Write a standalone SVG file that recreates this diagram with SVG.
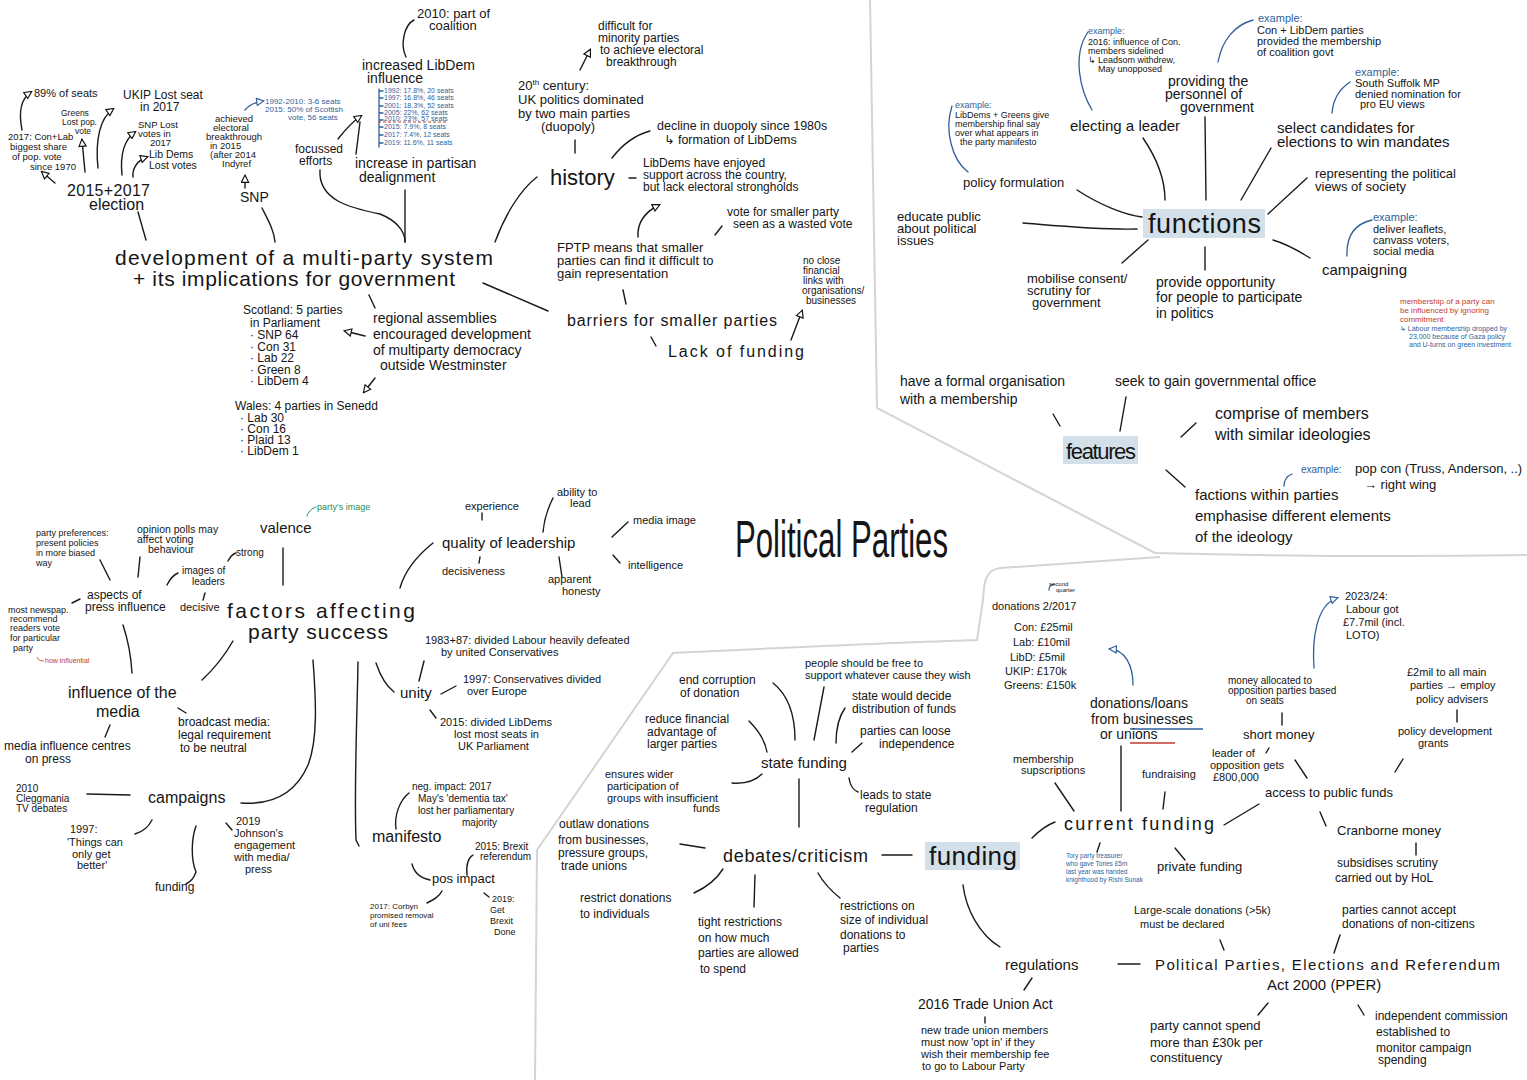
<svg xmlns="http://www.w3.org/2000/svg" width="1527" height="1080" viewBox="0 0 1527 1080">
<defs>
<style>
text{font-family:"Liberation Sans","DejaVu Sans",Arial,sans-serif;fill:#151515}
.bl{fill:#2f5f9a}
.rd{fill:#c23b2e}
.gr{fill:#2e8b57}
.c{fill:none;stroke:#1a1a1a;stroke-width:1.4;stroke-linecap:round}
.cb{fill:none;stroke:#2f5f9a;stroke-width:1.3;stroke-linecap:round}
.cg{fill:none;stroke:#2e8b57;stroke-width:1;stroke-linecap:round}
.div{fill:none;stroke:#d4d4d4;stroke-width:2}
.hl{fill:#d3e0ea}
</style>
<marker id="oa" viewBox="0 0 10 10" refX="8" refY="5" markerWidth="9" markerHeight="9" markerUnits="userSpaceOnUse" orient="auto"><path d="M1,1 L9,5 L1,9 z" fill="#fff" stroke="#111" stroke-width="1.3"/></marker>
<marker id="ob" viewBox="0 0 10 10" refX="8" refY="5" markerWidth="9" markerHeight="9" markerUnits="userSpaceOnUse" orient="auto"><path d="M1,1 L9,5 L1,9 z" fill="#fff" stroke="#2f5f9a" stroke-width="1.3"/></marker>
</defs>
<rect width="1527" height="1080" fill="#fff"/>

<g id="dividers">
<path class="div" d="M870,0 C872,150 876,300 877,408 L1155,553 C1280,556 1400,557 1527,555"/>
<path class="div" d="M535,1080 L537,850 L673,653 C780,648 880,643 977,640 L983,600 C984,580 986,570 1000,568 C1080,563 1130,559 1160,557"/>
</g>

<g id="connectors">
<path class="c" d="M55,183 L42,172" marker-end="url(#oa)"/>
<path class="c" d="M85,172 L82,140" marker-end="url(#oa)"/>
<path class="c" d="M98,168 C95,140 100,118 113,109" marker-end="url(#oa)"/>
<path class="c" d="M122,175 C120,155 124,140 135,132" marker-end="url(#oa)"/>
<path class="c" d="M133,177 C132,168 138,160 147,157" marker-end="url(#oa)"/>
<path class="c" d="M22,130 C18,110 22,98 31,92" marker-end="url(#oa)"/>
<path class="c" d="M138,212 L146,240"/>
<path class="c" d="M262,208 C268,220 274,230 275,242"/>
<path class="c" d="M245,188 L245,176" marker-end="url(#oa)"/>
<path class="cb" d="M245,110 C250,104 256,102 263,101" marker-end="url(#ob)"/>
<path class="c" d="M338,139 C345,130 352,122 361,116" marker-end="url(#oa)"/>
<path class="c" d="M356,154 L360,122"/>
<path class="c" d="M320,170 C318,200 350,208 380,214 C395,220 405,230 405,242"/>
<path class="c" d="M405,190 L405,242"/>
<path class="c" d="M406,57 C400,45 404,25 414,20"/>
<path class="cb" d="M379,89 L379,147 M379,91 L383,91 M379,98 L383,98 M379,106 L383,106 M379,113 L383,113 M379,120 L383,120 M379,127 L383,127 M379,135 L383,135 M379,143 L383,143"/>
<path d="M378,122 L448,122" stroke="#c23b2e" stroke-width="1" stroke-dasharray="3,2" fill="none"/>
<path class="c" d="M495,242 C505,215 520,190 537,177"/>
<path class="c" d="M483,283 L548,311"/>
<path class="c" d="M369,295 L375,308"/>
<path class="c" d="M365,336 L345,331" marker-end="url(#oa)"/>
<path class="c" d="M375,378 L364,392" marker-end="url(#oa)"/>
<path class="c" d="M575,140 L575,153"/>
<path class="c" d="M580,70 L590,50" marker-end="url(#oa)"/>
<path class="c" d="M612,158 C622,145 635,135 650,131"/>
<path class="c" d="M629,178 L636,178"/>
<path class="c" d="M638,237 C637,222 645,212 659,205" marker-end="url(#oa)"/>
<path class="c" d="M715,235 L722,226"/>
<path class="c" d="M623,290 L626,304"/>
<path class="c" d="M651,337 L656,346"/>
<path class="c" d="M791,340 L802,311" marker-end="url(#oa)"/>
<path class="cb" d="M968,172 C952,160 944,130 952,106"/>
<path class="cb" d="M1092,110 C1080,90 1072,55 1088,32"/>
<path class="c" d="M1077,190 C1100,205 1125,215 1142,217"/>
<path class="c" d="M1023,223 C1060,226 1100,230 1137,229"/>
<path class="c" d="M1122,263 L1148,240"/>
<path class="c" d="M1143,138 C1158,160 1165,180 1165,200"/>
<path class="c" d="M1205,117 L1206,200"/>
<path class="cb" d="M1218,62 C1222,40 1235,25 1253,20"/>
<path class="c" d="M1271,148 L1241,200"/>
<path class="cb" d="M1332,113 C1333,100 1338,90 1350,82"/>
<path class="c" d="M1268,214 L1307,178"/>
<path class="c" d="M1273,240 C1290,245 1300,252 1310,258"/>
<path class="cb" d="M1347,256 C1346,235 1355,224 1372,220"/>
<path class="c" d="M1205,247 L1205,270"/>
<path class="c" d="M1053,414 L1060,426"/>
<path class="c" d="M1126,397 L1120,431"/>
<path class="c" d="M1181,437 L1196,423"/>
<path class="c" d="M1166,470 L1185,487"/>
<path class="cb" d="M1284,486 C1284,480 1287,476 1292,474"/>
<path class="cg" d="M307,516 C308,512 311,509 316,507"/>
<path class="c" d="M100,560 L110,580"/>
<path class="c" d="M140,557 L138,577"/>
<path class="c" d="M167,585 C170,579 173,575 178,573"/>
<path class="c" d="M228,561 C230,557 232,554 236,553"/>
<path class="c" d="M205,593 L203,600"/>
<path class="c" d="M72,603 L80,599"/>
<path d="M37,657 C38,660 40,661 44,661" fill="none" stroke="#c23b2e" stroke-width="0.8"/>
<path class="c" d="M123,625 C128,640 131,655 132,673"/>
<path class="c" d="M233,641 C225,655 215,668 202,680"/>
<path class="c" d="M283,548 L283,585"/>
<path class="c" d="M433,543 C418,555 405,570 400,588"/>
<path class="c" d="M482,513 L482,520"/>
<path class="c" d="M553,498 C548,508 544,520 543,532"/>
<path class="c" d="M628,522 L612,537"/>
<path class="c" d="M613,555 L620,563"/>
<path class="c" d="M480,557 L479,563"/>
<path class="c" d="M559,557 L562,577"/>
<path class="c" d="M178,708 L186,713"/>
<path class="c" d="M110,725 L105,737"/>
<path class="c" d="M87,794 L130,795"/>
<path class="c" d="M313,660 C316,700 318,740 308,765 C295,795 270,805 241,803"/>
<path class="c" d="M152,820 C148,828 142,832 135,834"/>
<path class="c" d="M196,826 C191,840 191,860 196,872 C194,878 190,882 186,884"/>
<path class="c" d="M226,823 L232,830"/>
<path class="c" d="M358,662 C357,720 354,790 356,840 L359,846"/>
<path class="c" d="M376,663 C380,675 385,685 394,692"/>
<path class="c" d="M419,681 L424,661"/>
<path class="c" d="M441,694 L456,686"/>
<path class="c" d="M430,710 L436,718"/>
<path class="c" d="M396,829 C394,815 400,800 409,793"/>
<path class="c" d="M412,864 C414,872 420,878 430,880"/>
<path class="c" d="M467,875 C466,865 468,858 473,855"/>
<path class="c" d="M427,903 C433,900 439,897 442,891"/>
<path class="c" d="M484,893 L489,897"/>
<path class="c" d="M773,683 C788,695 795,715 795,740"/>
<path class="c" d="M824,687 L814,740"/>
<path class="c" d="M845,708 C838,718 836,730 836,743"/>
<path class="c" d="M862,743 L852,752"/>
<path class="c" d="M749,721 C758,730 765,740 767,752"/>
<path class="c" d="M732,783 C745,784 755,781 762,774"/>
<path class="c" d="M849,778 C850,785 853,790 858,792"/>
<path class="c" d="M799,779 L799,827"/>
<path class="c" d="M680,844 L705,848"/>
<path class="c" d="M882,855 L912,855"/>
<path class="c" d="M694,893 C705,888 716,880 723,869"/>
<path class="c" d="M755,875 L754,907"/>
<path class="c" d="M818,873 C823,882 830,890 840,898"/>
<path class="c" d="M963,885 C966,910 980,935 1000,947"/>
<path class="c" d="M1032,838 C1040,830 1047,825 1055,822"/>
<path class="cb" d="M1133,685 C1133,665 1125,650 1110,649" marker-end="url(#ob)"/>
<path class="cb" d="M1049,590 C1049,587 1051,585 1054,584"/>
<path d="M1130,729 L1203,729" stroke="#2f5f9a" stroke-width="1.3"/>
<path d="M1130,743 L1175,743" stroke="#c23b2e" stroke-width="1.3"/>
<path class="c" d="M1055,783 L1074,811"/>
<path class="c" d="M1121,746 L1121,811"/>
<path class="c" d="M1165,792 L1163,809"/>
<path class="c" d="M1282,713 L1282,725"/>
<path class="c" d="M1269,748 L1266,753"/>
<path class="c" d="M1295,760 L1307,778"/>
<path class="cb" d="M1314,668 C1312,640 1316,605 1337,598" marker-end="url(#ob)"/>
<path class="c" d="M1457,710 L1457,722"/>
<path class="c" d="M1403,759 L1395,772"/>
<path class="c" d="M1259,804 L1224,825"/>
<path class="c" d="M1320,812 L1326,826"/>
<path class="c" d="M1416,843 L1416,855"/>
<path class="c" d="M1100,843 L1097,852"/>
<path class="c" d="M1175,848 L1185,860"/>
<path class="c" d="M1220,940 L1224,950"/>
<path class="c" d="M1340,935 L1334,953"/>
<path class="c" d="M1118,964 L1140,964"/>
<path class="c" d="M1032,978 L1024,990"/>
<path class="c" d="M985,1017 L985,1023"/>
<path class="c" d="M1268,1003 L1258,1015"/>
<path class="c" d="M1358,1005 L1364,1015"/>
</g>

<g id="title"><text x="735" y="557" font-family="Lato,'Open Sans',sans-serif" font-weight="300" font-size="52" textLength="213" lengthAdjust="spacingAndGlyphs">Political Parties</text></g>

<g id="main-multiparty" font-size="21">
<text x="115" y="265" textLength="378">development of a multi-party system</text>
<text x="133" y="286" textLength="322">+ its implications for government</text>
</g>
<g id="election" font-size="16"><text x="67" y="196" textLength="83">2015+2017</text><text x="89" y="210">election</text></g>
<g id="n-2017" font-size="9.5"><text x="8" y="140">2017: Con+Lab</text><text x="10" y="150">biggest share</text><text x="12" y="160">of pop. vote</text><text x="30" y="170">since 1970</text></g>
<g id="n-89" font-size="11"><text x="34" y="97">89% of seats</text></g>
<g id="n-greens" font-size="8.5"><text x="61" y="116">Greens</text><text x="62" y="125">Lost pop.</text><text x="75" y="134">vote</text></g>
<g id="n-ukip" font-size="12"><text x="123" y="99">UKIP Lost seat</text><text x="140" y="111">in 2017</text></g>
<g id="n-snplost" font-size="9.5"><text x="138" y="128">SNP Lost</text><text x="138" y="137">votes in</text><text x="150" y="146">2017</text></g>
<g id="n-libdems" font-size="10.5"><text x="149" y="158">Lib Dems</text><text x="149" y="169">Lost votes</text></g>
<g id="n-snp" font-size="14"><text x="240" y="202">SNP</text></g>
<g id="n-achieved" font-size="9.5"><text x="215" y="122">achieved</text><text x="213" y="131">electoral</text><text x="206" y="140">breakthrough</text><text x="210" y="149">in 2015</text><text x="210" y="158">(after 2014</text><text x="222" y="167">Indyref</text></g>
<g id="n-snpblue" font-size="8"><text class="bl" x="265" y="104">1992-2010: 3-6 seats</text><text class="bl" x="265" y="112">2015: 50% of Scottish</text><text class="bl" x="288" y="120">vote, 56 seats</text></g>
<g id="n-focussed" font-size="12"><text x="295" y="153">focussed</text><text x="299" y="165">efforts</text></g>
<g id="n-2010" font-size="13"><text x="417" y="18">2010: part of</text><text x="429" y="30">coalition</text></g>
<g id="n-libdeminf" font-size="14"><text x="362" y="70">increased LibDem</text><text x="367" y="83">influence</text></g>
<g id="n-list" font-size="7"><text class="bl" x="384" y="93">1992: 17.8%, 20 seats</text><text class="bl" x="384" y="100">1997: 16.8%, 46 seats</text><text class="bl" x="384" y="108">2001: 18.3%, 52 seats</text><text class="bl" x="384" y="115">2005: 22%, 62 seats</text><text class="bl" x="384" y="121">2010: 23%, 57 seats</text><text class="bl" x="384" y="129">2015: 7.9%, 8 seats</text><text class="bl" x="384" y="137">2017: 7.4%, 12 seats</text><text class="bl" x="384" y="145">2019: 11.6%, 11 seats</text></g>
<g id="n-partisan" font-size="14"><text x="355" y="168">increase in partisan</text><text x="359" y="182">dealignment</text></g>
<g id="n-scotland" font-size="12"><text x="243" y="314">Scotland: 5 parties</text><text x="250" y="327">in Parliament</text><text x="250" y="339">· SNP  64</text><text x="250" y="351">· Con  31</text><text x="250" y="362">· Lab  22</text><text x="250" y="374">· Green  8</text><text x="250" y="385">· LibDem 4</text></g>
<g id="n-regional" font-size="14"><text x="373" y="323">regional assemblies</text><text x="373" y="339">encouraged development</text><text x="373" y="355">of multiparty democracy</text><text x="380" y="370">outside Westminster</text></g>
<g id="n-wales" font-size="12"><text x="235" y="410">Wales: 4 parties in Senedd</text><text x="240" y="422">· Lab  30</text><text x="240" y="433">· Con  16</text><text x="240" y="444">· Plaid 13</text><text x="240" y="455">· LibDem 1</text></g>
<g id="n-difficult" font-size="12"><text x="598" y="30">difficult for</text><text x="598" y="42">minority parties</text><text x="600" y="54">to achieve electoral</text><text x="606" y="66">breakthrough</text></g>
<g id="n-20th" font-size="13"><text x="518" y="90">20<tspan font-size="8" dy="-5">th</tspan><tspan dy="5"> century:</tspan></text><text x="518" y="104">UK politics dominated</text><text x="518" y="118">by two main parties</text><text x="541" y="131">(duopoly)</text></g>
<g id="n-history" font-size="22"><text x="550" y="185">history</text></g>
<g id="n-decline" font-size="12.5"><text x="657" y="130">decline in duopoly since 1980s</text><text x="664" y="144">↳ formation of LibDems</text></g>
<g id="n-enjoyed" font-size="12"><text x="643" y="167">LibDems have enjoyed</text><text x="643" y="179">support across the country,</text><text x="643" y="191">but lack electoral strongholds</text></g>
<g id="n-wasted" font-size="12"><text x="727" y="216">vote for smaller party</text><text x="733" y="228">seen as a wasted vote</text></g>
<g id="n-fptp" font-size="13"><text x="557" y="252">FPTP means that smaller</text><text x="557" y="265">parties can find it difficult to</text><text x="557" y="278">gain representation</text></g>
<g id="n-barriers" font-size="16"><text x="567" y="326" textLength="210">barriers for smaller parties</text></g>
<g id="n-lack" font-size="16"><text x="668" y="357" textLength="136">Lack of funding</text></g>
<g id="n-noclose" font-size="10"><text x="803" y="264">no close</text><text x="803" y="274">financial</text><text x="803" y="284">links with</text><text x="802" y="294">organisations/</text><text x="806" y="304">businesses</text></g>

<g id="functions"><rect class="hl" x="1143" y="209" width="122" height="29"/><text x="1148" y="233" font-size="27" textLength="113">functions</text></g>
<g id="f-policyex" font-size="9"><text class="bl" x="955" y="108">example:</text><text x="955" y="118">LibDems + Greens give</text><text x="955" y="127">membership final say</text><text x="955" y="136">over what appears in</text><text x="960" y="145">the party manifesto</text></g>
<g id="f-policy" font-size="13"><text x="963" y="187">policy formulation</text></g>
<g id="f-educate" font-size="13"><text x="897" y="221">educate public</text><text x="897" y="233">about political</text><text x="897" y="245">issues</text></g>
<g id="f-mobilise" font-size="13"><text x="1027" y="283">mobilise consent/</text><text x="1027" y="295">scrutiny for</text><text x="1032" y="307">government</text></g>
<g id="f-provide" font-size="14"><text x="1156" y="287">provide opportunity</text><text x="1156" y="302">for people to participate</text><text x="1156" y="318">in politics</text></g>
<g id="f-campaigning" font-size="15"><text x="1322" y="275">campaigning</text></g>
<g id="f-campex" font-size="11"><text class="bl" x="1373" y="221">example:</text><text x="1373" y="233">deliver leaflets,</text><text x="1373" y="244">canvass voters,</text><text x="1373" y="255">social media</text></g>
<g id="f-represent" font-size="13"><text x="1315" y="178">representing the political</text><text x="1315" y="191">views of society</text></g>
<g id="f-select" font-size="15"><text x="1277" y="133">select candidates for</text><text x="1277" y="147">elections to win mandates</text></g>
<g id="f-selectex" font-size="11"><text class="bl" x="1355" y="76">example:</text><text x="1355" y="87">South Suffolk MP</text><text x="1355" y="98">denied nomination for</text><text x="1360" y="108">pro EU views</text></g>
<g id="f-personnel" font-size="14"><text x="1168" y="86">providing the</text><text x="1165" y="99">personnel of</text><text x="1180" y="112">government</text></g>
<g id="f-personnelex" font-size="11"><text class="bl" x="1258" y="22">example:</text><text x="1257" y="34">Con + LibDem parties</text><text x="1257" y="45">provided the membership</text><text x="1257" y="56">of coalition govt</text></g>
<g id="f-leaderex" font-size="9"><text class="bl" x="1088" y="34">example:</text><text x="1088" y="45">2016: influence of Con.</text><text x="1088" y="54">members sidelined</text><text x="1088" y="63">↳ Leadsom withdrew,</text><text x="1098" y="72">May unopposed</text></g>
<g id="f-leader" font-size="15"><text x="1070" y="131">electing a leader</text></g>
<g id="f-membership" font-size="8"><text class="rd" x="1400" y="304">membership of a party can</text><text class="rd" x="1400" y="313">be influenced by ignoring</text><text class="rd" x="1400" y="322">commitment</text><text class="bl" x="1400" y="331" font-size="7">↳ Labour membership dropped by</text><text class="bl" x="1409" y="339" font-size="7">23,000 because of Gaza policy</text><text class="bl" x="1409" y="347" font-size="7">and U-turns on green investment</text></g>

<g id="features"><rect class="hl" x="1063" y="436" width="75" height="28"/><text x="1066" y="459" font-size="22" textLength="70">features</text></g>
<g id="ft-formal" font-size="14"><text x="900" y="386">have a formal organisation</text><text x="900" y="404">with a membership</text></g>
<g id="ft-seek" font-size="14"><text x="1115" y="386">seek to gain governmental office</text></g>
<g id="ft-comprise" font-size="16"><text x="1215" y="419">comprise of members</text><text x="1215" y="440">with similar ideologies</text></g>
<g id="ft-example" font-size="13"><text class="bl" x="1301" y="473" font-size="10">example:</text><text x="1355" y="473">pop con (Truss, Anderson, ..)</text><text x="1364" y="489">→ right wing</text></g>
<g id="ft-factions" font-size="15"><text x="1195" y="500">factions within parties</text><text x="1195" y="521">emphasise different elements</text><text x="1195" y="542">of the ideology</text></g>

<g id="factors" font-size="21"><text x="227" y="618" textLength="188">factors affecting</text><text x="248" y="639" textLength="140">party success</text></g>
<g id="fa-image" font-size="9"><text class="gr" x="317" y="510">party's image</text></g>
<g id="fa-valence" font-size="15"><text x="260" y="533">valence</text></g>
<g id="fa-pref" font-size="9"><text x="36" y="536">party preferences:</text><text x="36" y="546">present policies</text><text x="36" y="556">in more biased</text><text x="36" y="566">way</text></g>
<g id="fa-polls" font-size="10.5"><text x="137" y="533">opinion polls may</text><text x="137" y="543">affect voting</text><text x="148" y="553">behaviour</text></g>
<g id="fa-strong" font-size="10"><text x="236" y="556">strong</text></g>
<g id="fa-images" font-size="10"><text x="182" y="574">images of</text><text x="192" y="585">leaders</text></g>
<g id="fa-aspects" font-size="12"><text x="87" y="599">aspects of</text><text x="85" y="611">press influence</text></g>
<g id="fa-decisive" font-size="11"><text x="180" y="611">decisive</text></g>
<g id="fa-newspap" font-size="9"><text x="8" y="613">most newspap.</text><text x="10" y="622">recommend</text><text x="10" y="631">readers vote</text><text x="10" y="641">for particular</text><text x="13" y="651">party</text><text class="rd" x="45" y="663" font-size="7">how influential</text></g>
<g id="fa-media" font-size="16"><text x="68" y="698">influence of the</text><text x="96" y="717">media</text></g>
<g id="fa-broadcast" font-size="12"><text x="178" y="726">broadcast media:</text><text x="178" y="739">legal requirement</text><text x="180" y="752">to be neutral</text></g>
<g id="fa-centres" font-size="12"><text x="4" y="750">media influence centres</text><text x="25" y="763">on press</text></g>
<g id="fa-2010" font-size="10"><text x="16" y="792">2010</text><text x="16" y="802">Cleggmania</text><text x="16" y="812">TV debates</text></g>
<g id="fa-campaigns" font-size="16"><text x="148" y="803">campaigns</text></g>
<g id="fa-1997" font-size="11"><text x="70" y="833">1997:</text><text x="67" y="846">'Things can</text><text x="72" y="858">only get</text><text x="77" y="869">better'</text></g>
<g id="fa-funding" font-size="12"><text x="155" y="891">funding</text></g>
<g id="fa-2019" font-size="11"><text x="236" y="825">2019</text><text x="234" y="837">Johnson's</text><text x="234" y="849">engagement</text><text x="234" y="861">with media/</text><text x="245" y="873">press</text></g>
<g id="fa-quality" font-size="15"><text x="442" y="548">quality of leadership</text></g>
<g id="fa-experience" font-size="11"><text x="465" y="510">experience</text></g>
<g id="fa-ability" font-size="11"><text x="557" y="496">ability to</text><text x="570" y="507">lead</text></g>
<g id="fa-mediaimage" font-size="11"><text x="633" y="524">media image</text></g>
<g id="fa-intelligence" font-size="11"><text x="628" y="569">intelligence</text></g>
<g id="fa-decisiveness" font-size="11"><text x="442" y="575">decisiveness</text></g>
<g id="fa-honesty" font-size="11"><text x="548" y="583">apparent</text><text x="562" y="595">honesty</text></g>
<g id="fa-unity" font-size="15"><text x="400" y="698">unity</text></g>
<g id="fa-1983" font-size="11"><text x="425" y="644">1983+87: divided Labour heavily defeated</text><text x="441" y="656">by united Conservatives</text></g>
<g id="fa-1997c" font-size="11"><text x="463" y="683">1997: Conservatives divided</text><text x="467" y="695">over Europe</text></g>
<g id="fa-2015" font-size="11"><text x="440" y="726">2015: divided LibDems</text><text x="454" y="738">lost most seats in</text><text x="458" y="750">UK Parliament</text></g>
<g id="fa-neg" font-size="10"><text x="412" y="790">neg. impact: 2017</text><text x="418" y="802">May's 'dementia tax'</text><text x="418" y="814">lost her parliamentary</text><text x="462" y="826">majority</text></g>
<g id="fa-manifesto" font-size="16"><text x="372" y="842">manifesto</text></g>
<g id="fa-brexitref" font-size="10"><text x="475" y="850">2015: Brexit</text><text x="480" y="860">referendum</text></g>
<g id="fa-pos" font-size="13"><text x="432" y="883">pos impact</text></g>
<g id="fa-corbyn" font-size="8"><text x="370" y="909">2017: Corbyn</text><text x="370" y="918">promised removal</text><text x="370" y="927">of uni fees</text></g>
<g id="fa-getbrexit" font-size="9"><text x="492" y="902">2019:</text><text x="490" y="913">Get</text><text x="490" y="924">Brexit</text><text x="494" y="935">Done</text></g>

<g id="funding"><rect class="hl" x="925" y="842" width="95" height="28"/><text x="929" y="865" font-size="26" textLength="88">funding</text></g>
<g id="fu-debates" font-size="18"><text x="723" y="862" textLength="145">debates/criticism</text></g>
<g id="fu-state" font-size="15"><text x="761" y="768">state funding</text></g>
<g id="fu-corruption" font-size="12"><text x="679" y="684">end corruption</text><text x="680" y="697">of donation</text></g>
<g id="fu-free" font-size="11"><text x="805" y="667">people should be free to</text><text x="805" y="679">support whatever cause they wish</text></g>
<g id="fu-decide" font-size="12"><text x="852" y="700">state would decide</text><text x="852" y="713">distribution of funds</text></g>
<g id="fu-loose" font-size="12"><text x="860" y="735">parties can loose</text><text x="879" y="748">independence</text></g>
<g id="fu-reduce" font-size="12"><text x="645" y="723">reduce financial</text><text x="647" y="736">advantage of</text><text x="647" y="748">larger parties</text></g>
<g id="fu-wider" font-size="11"><text x="605" y="778">ensures wider</text><text x="607" y="790">participation of</text><text x="607" y="802">groups with insufficient</text><text x="693" y="812">funds</text></g>
<g id="fu-leads" font-size="12"><text x="860" y="799">leads to state</text><text x="865" y="812">regulation</text></g>
<g id="fu-outlaw" font-size="12"><text x="559" y="828">outlaw donations</text><text x="558" y="844">from businesses,</text><text x="558" y="857">pressure groups,</text><text x="561" y="870">trade unions</text></g>
<g id="fu-restrict" font-size="12"><text x="580" y="902">restrict donations</text><text x="580" y="918">to individuals</text></g>
<g id="fu-tight" font-size="12"><text x="698" y="926">tight restrictions</text><text x="698" y="942">on how much</text><text x="698" y="957">parties are allowed</text><text x="700" y="973">to spend</text></g>
<g id="fu-size" font-size="12"><text x="840" y="910">restrictions on</text><text x="840" y="924">size of individual</text><text x="840" y="939">donations to</text><text x="843" y="952">parties</text></g>
<g id="fu-current" font-size="18"><text x="1064" y="830" textLength="150">current funding</text></g>
<g id="fu-donations" font-size="14"><text x="1090" y="708">donations/loans</text><text x="1091" y="724">from businesses</text><text x="1100" y="739">or unions</text></g>
<g id="fu-figures" font-size="11"><text x="1049" y="586" font-size="6">second</text><text x="1056" y="592" font-size="6">quarter</text><text x="992" y="610">donations  2/2017</text><text x="1014" y="631">Con: £25mil</text><text x="1013" y="646">Lab: £10mil</text><text x="1010" y="661">LibD: £5mil</text><text x="1005" y="675">UKIP: £170k</text><text x="1004" y="689">Greens: £150k</text></g>
<g id="fu-subs" font-size="11"><text x="1013" y="763">membership</text><text x="1021" y="774">supscriptions</text></g>
<g id="fu-fundraising" font-size="11"><text x="1142" y="778">fundraising</text></g>
<g id="fu-allocated" font-size="10"><text x="1228" y="684">money allocated to</text><text x="1228" y="694">opposition parties based</text><text x="1246" y="704">on seats</text></g>
<g id="fu-short" font-size="13"><text x="1243" y="739">short money</text></g>
<g id="fu-leaderopp" font-size="11"><text x="1212" y="757">leader of</text><text x="1210" y="769">opposition gets</text><text x="1213" y="781">£800,000</text></g>
<g id="fu-2023" font-size="11"><text x="1345" y="600">2023/24:</text><text x="1346" y="613">Labour got</text><text x="1343" y="626">£7.7mil (incl.</text><text x="1346" y="639">LOTO)</text></g>
<g id="fu-2mil" font-size="11"><text x="1407" y="676">£2mil to all main</text><text x="1410" y="689">parties → employ</text><text x="1416" y="703">policy advisers</text></g>
<g id="fu-grants" font-size="11"><text x="1398" y="735">policy development</text><text x="1418" y="747">grants</text></g>
<g id="fu-access" font-size="13"><text x="1265" y="797">access to public funds</text></g>
<g id="fu-cranborne" font-size="13"><text x="1337" y="835">Cranborne money</text></g>
<g id="fu-scrutiny" font-size="12"><text x="1337" y="867">subsidises scrutiny</text><text x="1335" y="882">carried out by HoL</text></g>
<g id="fu-tory" font-size="6.5"><text class="bl" x="1066" y="858">Tory party treasurer</text><text class="bl" x="1066" y="866">who gave Tories £5m</text><text class="bl" x="1066" y="874">last year was handed</text><text class="bl" x="1066" y="882">knighthood by Rishi Sunak</text></g>
<g id="fu-private" font-size="13"><text x="1157" y="871">private funding</text></g>
<g id="fu-large" font-size="11"><text x="1134" y="914">Large-scale donations (&gt;5k)</text><text x="1140" y="928">must be declared</text></g>
<g id="fu-noncit" font-size="12"><text x="1342" y="914">parties cannot accept</text><text x="1342" y="928">donations of non-citizens</text></g>
<g id="fu-regulations" font-size="15"><text x="1005" y="970">regulations</text></g>
<g id="fu-ppere" font-size="15"><text x="1155" y="970" textLength="345">Political Parties, Elections and Referendum</text><text x="1267" y="990">Act 2000 (PPER)</text></g>
<g id="fu-tu" font-size="14"><text x="918" y="1009">2016 Trade Union Act</text></g>
<g id="fu-tunote" font-size="11"><text x="921" y="1034">new trade union members</text><text x="921" y="1046">must now 'opt in' if they</text><text x="921" y="1058">wish their membership fee</text><text x="922" y="1070">to go to Labour Party</text></g>
<g id="fu-spend" font-size="13"><text x="1150" y="1030">party cannot spend</text><text x="1150" y="1047">more than £30k per</text><text x="1150" y="1062">constituency</text></g>
<g id="fu-commission" font-size="12"><text x="1375" y="1020">independent commission</text><text x="1376" y="1036">established to</text><text x="1376" y="1052">monitor campaign</text><text x="1378" y="1064">spending</text></g>
</svg>
